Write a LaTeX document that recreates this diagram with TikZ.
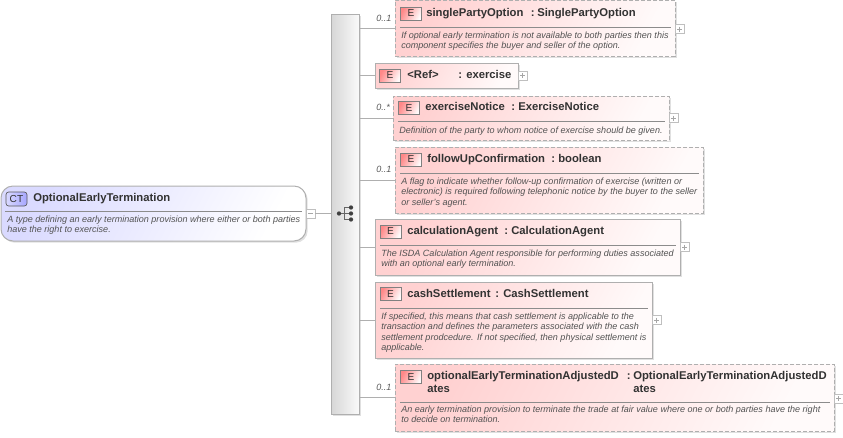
\documentclass[tikz,border=0pt]{standalone}
\usepackage{fontspec}
\setmainfont{Liberation Sans}
\usetikzlibrary{shadows}
\definecolor{bordr}{RGB}{175,175,175}
\definecolor{txt}{RGB}{50,50,50}
\definecolor{pinkf}{RGB}{255,209,209}
\definecolor{pinkm}{RGB}{255,232,232}
\definecolor{pinke}{RGB}{255,250,250}
\definecolor{bluef}{RGB}{218,218,255}
\definecolor{bluem}{RGB}{236,236,255}
\tikzset{
 x=0.75pt,y=-0.75pt,
 sz/.style 2 args={minimum width=#1*0.75pt,minimum height=#2*0.75pt,inner sep=0pt,outer sep=0pt},
 shad/.style={drop shadow={shadow xshift=1.3pt,shadow yshift=-1.3pt,fill=black,opacity=.12}},
 ebox/.style={rectangle,draw=bordr,line width=0.75pt,top color=pinkf,middle color=pinkm,bottom color=pinke,shading angle=62,shad},
 optbox/.style={ebox,dash pattern=on 3pt off 1.5pt},
 ctbox/.style={rectangle,rounded corners=9pt,draw=bordr,line width=0.75pt,top color=bluef,middle color=bluem,bottom color=white,shading angle=62,shad},
 seqbar/.style={rectangle,draw=bordr,line width=0.7pt,left color=black!16,right color=black!2,shad},
 badge/.style={rectangle,draw=black!50,line width=0.5pt,top color=red!35!pinkf,bottom color=pinke,shading angle=62,text=txt,font=\fontsize{7.6}{8}\selectfont,sz={21}{13}},
 ctbadge/.style={rectangle,rounded corners=2pt,draw=black!65,line width=0.5pt,left color=blue!15,right color=blue!35,text=txt,font=\fontsize{7.6}{8}\selectfont,sz={21}{14}},
 title/.style={anchor=base west,inner sep=0pt,text=txt,font=\fontsize{8.46}{9}\selectfont\bfseries},
 desc/.style={anchor=base west,inner sep=0pt,text=black!68,font=\fontsize{6.78}{8}\selectfont\itshape},
 card/.style={anchor=base west,inner sep=0pt,text=black!65,font=\fontsize{6.78}{8}\selectfont\itshape},
 btn/.style={rectangle,draw=black!25,fill=white,line width=0.5pt,sz={9}{9}},
 sepl/.style={draw=black!45,line width=0.6pt},
 conn/.style={draw=bordr,line width=0.7pt},
 sym/.style={circle,fill=black!75,inner sep=0pt,minimum size=3.2pt},
 symline/.style={draw=black!60,line width=0.8pt},
 glyph/.style={draw=black!35,line width=0.5pt},
}
\begin{document}
\begin{tikzpicture}
\useasboundingbox (0,0) rectangle (843,437);
% sequence bar and root
\node[seqbar,sz={28}{400}] (seq) at (345,214) {};
\node[ctbox,sz={305}{55}] (ct) at (153.5,213.5) {};
\node[btn] (ctb) at (310.5,213.5) {};
\draw[glyph] (308,213.5) -- (313,213.5);
\draw[conn] (ctb) -- (seq.west |- ctb);
\draw[sepl] (5,211) -- (302,211);
\node[ctbadge] (ctbd) at (16.5,199) {CT};
\node[title] (ctt) at (33,201) {OptionalEarlyTermination};
\node[desc] (ctd1) at (7,222) {A type defining an early termination provision where either or both parties};
\node[desc] (ctd2) at (7,232) {have the right to exercise.};
% sequence symbol
\node[sym] (s0) at (339,213.5) {};
\node[sym] (s1) at (351,207.5) {};
\node[sym] (s2) at (351,213.5) {};
\node[sym] (s3) at (351,219.5) {};
\coordinate (sm) at (344.5,213.5);
\draw[symline] (s0) -- (s2);
\draw[symline] (s1) -- (s1 -| sm) -- (s3 -| sm) -- (s3);
% E1
\node[optbox,sz={280}{56}] (e1) at (535,28) {};
\draw[conn] (seq.east |- e1.west) -- (e1.west);
\node[btn] (b1) at (679.5,29) {};
\draw[glyph] (677,29) -- (682,29) (679.5,26.5) -- (679.5,31.5);
\node[badge] (bd1) at (411,13.5) {E};
\node[title] (t1) at (426,16) {singlePartyOption};
\node[title] (c1) at (530.5,16) {:};
\node[title] (y1) at (537,16) {SinglePartyOption};
\draw[sepl] (400,27) -- (671,27);
\node[desc] (d11) at (401,38) {If optional early termination is not available to both parties then this};
\node[desc] (d12) at (401,48) {component specifies the buyer and seller of the option.};
\node[card] (n1) at (376,21) {0..1};
% E2
\node[ebox,sz={143}{25}] (e2) at (446.5,75.5) {};
\draw[conn] (seq.east |- e2.west) -- (e2.west);
\node[btn] (b2) at (522.5,75.5) {};
\draw[glyph] (520,75.5) -- (525,75.5) (522.5,73) -- (522.5,78);
\node[badge] (bd2) at (390,75.5) {E};
\node[title] (t2) at (407,78) {<Ref>};
\node[title] (c2) at (458,78) {:};
\node[title] (y2) at (466,78) {exercise};
% E3
\node[optbox,sz={276}{44}] (e3) at (531,118) {};
\draw[conn] (seq.east |- e3.west) -- (e3.west);
\node[btn] (b3) at (673.5,118) {};
\draw[glyph] (671,118) -- (676,118) (673.5,115.5) -- (673.5,120.5);
\node[badge] (bd3) at (409,108) {E};
\node[title] (t3) at (425,110) {exerciseNotice};
\node[title] (c3) at (511,110) {:};
\node[title] (y3) at (518,110) {ExerciseNotice};
\draw[sepl] (398,121) -- (665,121);
\node[desc] (d31) at (399,133) {Definition of the party to whom notice of exercise should be given.};
\node[card] (n3) at (376,110) {0..*};
% E4
\node[optbox,sz={308}{66}] (e4) at (549,180) {};
\draw[conn] (seq.east |- e4.west) -- (e4.west);
\node[badge] (bd4) at (411,159.5) {E};
\node[title] (t4) at (427,162) {followUpConfirmation};
\node[title] (c4) at (551,162) {:};
\node[title] (y4) at (558,162) {boolean};
\draw[sepl] (400,173) -- (699,173);
\node[desc] (d41) at (401,184) {A flag to indicate whether follow-up confirmation of exercise (written or};
\node[desc] (d42) at (401,194) {electronic) is required following telephonic notice by the buyer to the seller};
\node[desc] (d43) at (401,205) {or seller's agent.};
\node[card] (n4) at (376,172) {0..1};
% E5
\node[ebox,sz={305}{56}] (e5) at (527.5,247) {};
\draw[conn] (seq.east |- e5.west) -- (e5.west);
\node[btn] (b5) at (684.5,247) {};
\draw[glyph] (682,247) -- (687,247) (684.5,244.5) -- (684.5,249.5);
\node[badge] (bd5) at (390.5,231.5) {E};
\node[title] (t5) at (407,234) {calculationAgent};
\node[title] (c5) at (504,234) {:};
\node[title] (y5) at (511,234) {CalculationAgent};
\draw[sepl] (380,245) -- (676,245);
\node[desc] (d51) at (381,256) {The ISDA Calculation Agent responsible for performing duties associated};
\node[desc] (d52) at (381,266) {with an optional early termination.};
% E6
\node[ebox,sz={277}{76}] (e6) at (513.5,320) {};
\draw[conn] (seq.east |- e6.west) -- (e6.west);
\node[btn] (b6) at (656.5,320) {};
\draw[glyph] (654,320) -- (659,320) (656.5,317.5) -- (656.5,322.5);
\node[badge] (bd6) at (390.5,294) {E};
\node[title] (t6) at (407,297) {cashSettlement};
\node[title] (c6) at (495,297) {:};
\node[title] (y6) at (503,297) {CashSettlement};
\draw[sepl] (380,308) -- (648,308);
\node[desc] (d61) at (381,319) {If specified, this means that cash settlement is applicable to the};
\node[desc] (d62) at (381,329) {transaction and defines the parameters associated with the cash};
\node[desc] (d63) at (381,340) {settlement prodcedure. If not specified, then physical settlement is};
\node[desc] (d64) at (381,350) {applicable.};
% E7
\node[optbox,sz={439}{67}] (e7) at (614.5,397.5) {};
\draw[conn] (seq.east |- e7.west) -- (e7.west);
\node[btn] (b7) at (838.5,398.5) {};
\draw[glyph] (836,398.5) -- (841,398.5) (838.5,396) -- (838.5,401);
\node[badge] (bd7) at (411,377) {E};
\node[title] (t7a) at (427,379) {optionalEarlyTerminationAdjustedD};
\node[title] (t7b) at (427,392) {ates};
\node[title] (c7) at (626.5,379) {:};
\node[title] (y7a) at (633,379) {OptionalEarlyTerminationAdjustedD};
\node[title] (y7b) at (633,392) {ates};
\draw[sepl] (400,402) -- (830,402);
\node[desc] (d71) at (401,412) {An early termination provision to terminate the trade at fair value where one or both parties have the right};
\node[desc] (d72) at (401,422) {to decide on termination.};
\node[card] (n7) at (376,390) {0..1};
\end{tikzpicture}
\end{document}
